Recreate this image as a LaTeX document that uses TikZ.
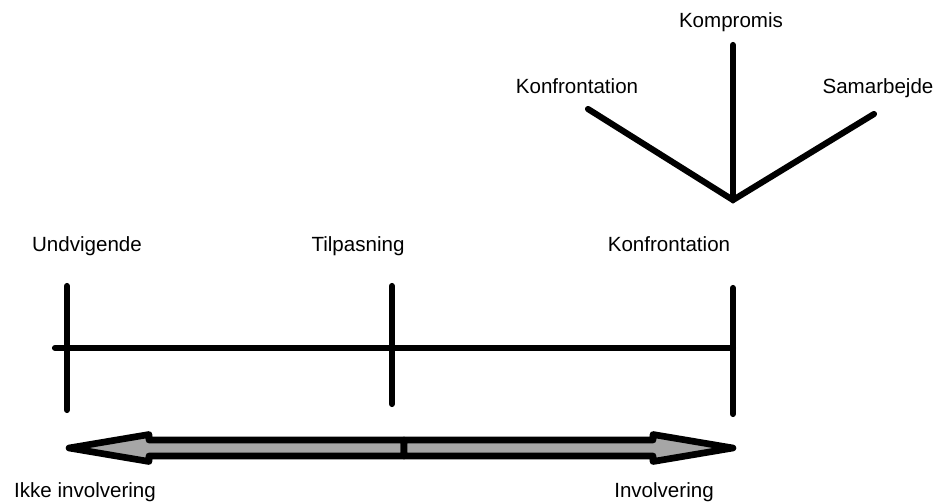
\documentclass[tikz,border=0pt]{standalone}
\usepackage{fontspec}
\setmainfont{Liberation Sans}
\usetikzlibrary{positioning,calc}
\tikzset{
	lbl/.style={anchor=base, inner sep=0, font=\fontsize{11.7}{14}\selectfont},
	bar/.style={line width=3.5pt, line cap=round},
	blockarrow/.style={draw=black, line width=3.8pt, line join=round, fill=black!35}
}
\begin{document}
\begin{tikzpicture}[x=0.02cm, y=-0.02cm]
	\useasboundingbox (0,0) rectangle (938,504);
	
	% scale with ticks
	\coordinate (l) at (55,348);
	\coordinate (r) at (733,348);
	\coordinate (u1) at (67,286);
	\coordinate (u2) at (67,410);
	\coordinate (t1) at (392,286);
	\coordinate (t2) at (392,404);
	\coordinate (k1) at (733,288);
	\coordinate (k2) at (733,414);
	\draw[bar] (l) -- (r);
	\draw[bar] (u1) -- (u2);
	\draw[bar] (t1) -- (t2);
	\draw[bar] (k1) -- (k2);
	
	\node [lbl] (und) at (87,251) {Undvigende};
	\node [lbl] (til) at (358,251) {Tilpasning};
	\node [lbl] (kon) at (669,251) {Konfrontation};
	
	% fork
	\coordinate (v) at (733,200);
	\coordinate (va) at (588,109);
	\coordinate (vb) at (733,45);
	\coordinate (vc) at (874,114);
	\draw[bar] (va) -- (v) -- (vc);
	\draw[bar] (v) -- (vb);
	
	\node [lbl] (kon2) at (577,93) {Konfrontation};
	\node [lbl] (kom) at (731,27) {Kompromis};
	\node [lbl] (sam) at (878,93) {Samarbejde};
	
	% double arrow
	\coordinate (mid) at (404,448);
	\coordinate (lh) at (149,448);
	\coordinate (lt) at (69,448);
	\coordinate (rh) at (653,448);
	\coordinate (rt) at (733,448);
	\draw[blockarrow] ($(mid)+(0,-8)$) -- ($(lh)+(0,-8)$) -- ($(lh)+(0,-13.5)$) -- (lt)
		-- ($(lh)+(0,13.5)$) -- ($(lh)+(0,8)$) -- ($(mid)+(0,8)$) -- cycle;
	\draw[blockarrow] ($(mid)+(0,-8)$) -- ($(rh)+(0,-8)$) -- ($(rh)+(0,-13.5)$) -- (rt)
		-- ($(rh)+(0,13.5)$) -- ($(rh)+(0,8)$) -- ($(mid)+(0,8)$) -- cycle;
	
	\node [lbl] (ikke) at (85,497) {Ikke involvering};
	\node [lbl] (inv) at (664,497) {Involvering};
\end{tikzpicture}
\end{document}
